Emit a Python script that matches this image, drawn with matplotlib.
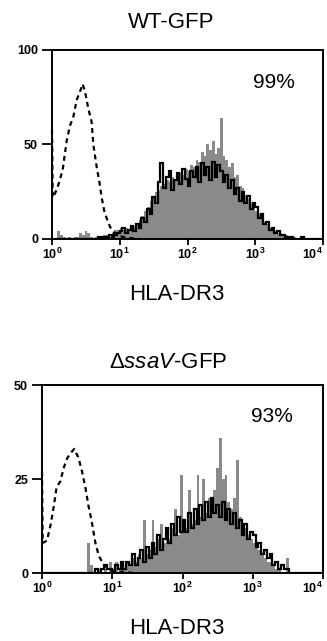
import numpy as np
import matplotlib.pyplot as plt

plt.rcParams['font.family'] = ['Liberation Sans', 'DejaVu Sans']
plt.rcParams['mathtext.fontset'] = 'custom'
plt.rcParams['mathtext.rm'] = 'Liberation Sans:bold'
plt.rcParams['mathtext.it'] = 'Liberation Sans:italic'

# 25 channels per decade, 10^0 .. 10^4
edges = 10 ** (np.arange(101) / 25)

# ---- WT-GFP ----
wt_gray = [0, 0, 4, 2, 1, 0, 1, 0, 1, 1, 3, 2, 4, 3, 1, 0, 1, 0, 1, 2, 2, 1, 3, 5, 5,
           6, 5, 6, 5, 6, 7, 8, 10, 12, 15, 17, 20, 22, 25, 26, 28, 29, 31, 30, 33, 32, 34, 35, 34, 37,
           36, 39, 38, 42, 41, 46, 44, 50, 47, 52, 45, 48, 64, 44, 42, 38, 40, 33, 34, 28, 27, 23, 21, 19, 17,
           15, 13, 11, 9, 8, 6, 5, 4, 3, 3, 2, 2, 1, 1, 1, 0, 0, 0, 0, 0, 0, 0, 0, 0, 0]
wt_black = [0, 0, 0, 0, 0, 0, 0, 0, 0, 0, 0, 0, 0, 0, 0, 0, 0, 1, 0, 1, 1, 2, 1, 2, 3,
            4, 6, 3, 5, 7, 4, 8, 6, 11, 9, 16, 13, 22, 19, 30, 40, 27, 33, 36, 26, 31, 35, 29, 37, 32,
            28, 36, 33, 38, 30, 40, 34, 38, 31, 41, 33, 39, 36, 30, 34, 27, 31, 24, 27, 20, 25, 19, 23, 16, 19,
            17, 11, 13, 8, 9, 5, 6, 3, 4, 2, 2, 1, 1, 1, 0, 0, 0, 1, 0, 0, 0, 0, 0, 0, 0]
wt_iso_log = [0.0, 0.01, 0.044, 0.093, 0.157, 0.19, 0.217, 0.266, 0.315, 0.364, 0.413, 0.453,
              0.487, 0.536, 0.585, 0.61, 0.66, 0.70, 0.733, 0.77, 0.816, 0.856, 0.90, 0.955,
              1.05, 1.15, 1.3]
wt_iso_count = [58, 22, 24, 28.6, 36.5, 45, 52, 60, 64.7, 73.5, 78, 82,
                78, 69, 62, 50, 38, 30, 22, 15, 10, 6.5, 4, 2,
                1, 0.5, 0]

# ---- dssaV-GFP ----
ko_gray = [0, 0, 0, 0, 0, 0, 0, 0, 0, 0, 0, 0, 0, 0, 0, 0, 8, 2, 0, 0, 1, 0, 1, 0, 3,
           1, 3, 0, 2, 1, 3, 2, 4, 3, 5, 4, 14, 5, 6, 14, 7, 9, 13, 8, 10, 9, 12, 17, 10, 26,
           11, 12, 22, 13, 14, 26, 15, 25, 16, 20, 18, 22, 28, 36, 25, 26, 19, 17, 20, 30, 15, 13, 12, 10, 9,
           8, 7, 6, 5, 4, 3, 3, 2, 1, 1, 0, 0, 4, 0, 0, 0, 0, 0, 0, 0, 0, 0, 0, 0, 0]
ko_black = [0, 0, 0, 0, 0, 0, 0, 0, 0, 0, 0, 0, 0, 0, 0, 0, 0, 0, 0, 1, 0, 1, 2, 1, 1,
            0, 2, 1, 3, 1, 3, 2, 5, 2, 4, 6, 3, 7, 4, 8, 5, 10, 6, 9, 12, 8, 13, 10, 15, 11,
            14, 11, 16, 12, 17, 13, 18, 14, 19, 15, 20, 16, 18, 15, 19, 14, 17, 13, 16, 12, 14, 10, 13, 9, 11,
            10, 7, 8, 5, 6, 4, 5, 2, 3, 1, 2, 1, 1, 0, 0, 0, 0, 0, 0, 0, 0, 0, 0, 0, 0]
ko_iso_log = [0.0, 0.01, 0.07, 0.12, 0.17, 0.21, 0.26, 0.31, 0.36, 0.43, 0.46,
              0.52, 0.57, 0.62, 0.66, 0.71, 0.76, 0.81, 0.88, 0.95, 1.02, 1.15, 1.3]
ko_iso_count = [27, 8, 8.6, 12.6, 18, 23, 24.3, 28, 30.6, 32.4, 33,
                30.6, 27, 22.5, 18, 13.5, 8, 4.5, 2.2, 1, 0.5, 0.3, 0]

titles = ['WT-GFP', r'Δ$\mathit{ssaV}$-GFP']
percents = ['99%', '93%']


def draw_panel(ax, gray, black, iso_log, iso_count, ymax, yticks, pct):
    ax.stairs(gray, edges, fill=True, color='#8a8a8a', lw=0)
    ax.stairs(black, edges, color='black', lw=1.6)
    ax.plot(10 ** np.array(iso_log), iso_count, color='black', lw=1.6,
            ls=(0, (2.2, 1.8)), clip_on=False)
    ax.set_xscale('log')
    ax.set_xlim(1, 1e4)
    ax.set_ylim(0, ymax)
    ax.set_xticks([1, 10, 100, 1000, 10000])
    ax.set_xticklabels([r'$10^{%d}$' % k for k in range(5)])
    ax.minorticks_off()
    ax.set_yticks(yticks)
    ax.set_yticklabels([str(v) for v in yticks], fontweight='bold')
    ax.tick_params(axis='y', length=7, width=1.3, pad=3, labelsize=9)
    ax.tick_params(axis='x', length=4, width=1.3, pad=1.5, labelsize=9)
    ax.get_xticklabels()[-1].set_horizontalalignment('right')
    for s in ax.spines.values():
        s.set_linewidth(1.4)
    ax.text(0.82, 0.83, pct, transform=ax.transAxes, ha='center', va='center', fontsize=15)


fig = plt.figure(figsize=(3.27, 6.41), dpi=100)

ax1 = fig.add_axes([52 / 327, 1 - 239 / 641, 271 / 327, 189 / 641])
draw_panel(ax1, wt_gray, wt_black, wt_iso_log, wt_iso_count, 100, [0, 50, 100], percents[0])

ax2 = fig.add_axes([42 / 327, 1 - 573 / 641, 281 / 327, 188 / 641])
draw_panel(ax2, ko_gray, ko_black, ko_iso_log, ko_iso_count, 50, [0, 25, 50], percents[1])

fig.text(171 / 327, 1 - 22 / 641, titles[0], ha='center', va='center', fontsize=16)
fig.text(177 / 327, 1 - 295 / 641, 'HLA-DR3', ha='center', va='center', fontsize=16)
fig.text(168 / 327, 1 - 362 / 641, titles[1], ha='center', va='center', fontsize=16)
fig.text(177 / 327, 1 - 629 / 641, 'HLA-DR3', ha='center', va='center', fontsize=16)

fig.savefig('out.png', dpi=100)
